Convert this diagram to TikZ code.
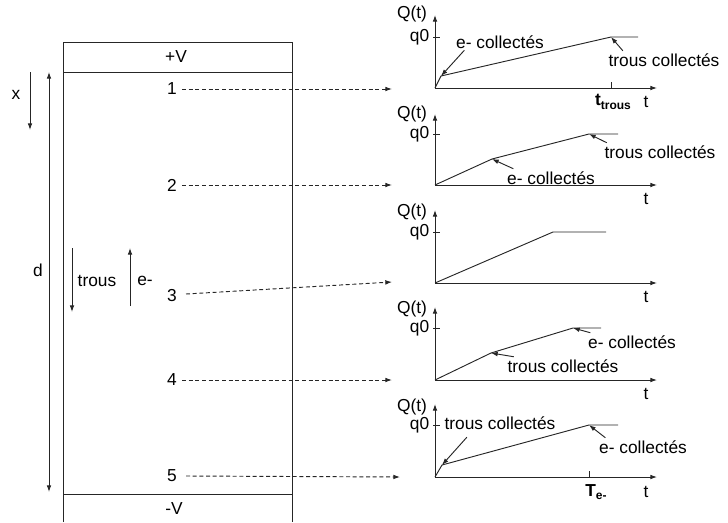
\documentclass[tikz,border=0pt]{standalone}
\usepackage{fontspec}
\setmainfont{Liberation Sans}
\usetikzlibrary{arrows.meta}

\tikzset{
  lbl/.style={inner sep=1pt,font=\fontsize{13}{15}\selectfont},
  axis/.style={-{Latex[length=5pt,width=3.5pt]}},
  pointer/.style={-{Latex[length=5pt,width=3.5pt]}},
  probe/.style={-{Latex[length=5pt,width=3.5pt]},dash pattern=on 3pt off 2pt},
}

\begin{document}
\begin{tikzpicture}[x=0.75pt,y=-0.75pt,line width=0.7pt,draw=black!85]
    \useasboundingbox (0,0) rectangle (728,522);

      % detecteur
      \draw (63,522) -- (63,42) -- (292,42) -- (292,522);
      \draw (63,72) -- (292,72);
      \draw (63,494) -- (292,494);

      \begin{scope}[every node/.style={lbl}]
        \node (pV) at (176,57)  {+V};
        \node (mV) at (174,509) {-V};
        \node (xl) at (16,95)   {x};
        \node (dl) at (38,270)  {d};
        \node (tr) at (97,281)  {trous};
        \node (el) at (145,281) {e-};

        \node (1) at (172,89)  {1};
        \node (2) at (172,185) {2};
        \node (3) at (172,296) {3};
        \node (4) at (172,380) {4};
        \node (5) at (172,476) {5};
      \end{scope}

      \draw[axis] (30,72) -- (30,130);
      \draw[{Latex[length=5pt,width=3.5pt]}-{Latex[length=5pt,width=3.5pt]}] (49,72) -- (49,492);
      \draw[axis] (72,248) -- (72,312);
      \draw[axis] (130,306) -- (130,248);

      \coordinate (e1) at (392,89);
      \coordinate (e2) at (392,185);
      \coordinate (e3) at (392,282);
      \coordinate (e4) at (392,380);
      \coordinate (e5) at (400,477);

      \draw[probe] (1) ++(10,0) -- (e1);
      \draw[probe] (2) ++(10,0) -- (e2);
      \draw[probe] (3) ++(14,-2) -- (e3);
      \draw[probe] (4) ++(10,0) -- (e4);
      \draw[probe] (5) ++(14,0) -- (e5);

      % graphe 1
      \coordinate (o1) at (435,88);
      \draw[axis] (o1) -- (435,15);
      \draw[axis] (o1) -- (657,88);
      \draw (433,37) -- (440,37);
      \draw (611,82) -- (611,88);
      \draw (o1) -- (441,76) coordinate (k1) -- (611,37) coordinate (m1) -- (638,37);
      \begin{scope}[every node/.style={lbl}]
        \node (Q1) at (412,14)  {Q(t)};
        \node[anchor=east] (q1) at (431,37) {q0};
        \node (tt) at (613,102) {\textbf{t}\raisebox{-0.35ex}{\fontsize{9}{10}\selectfont\textbf{trous}}};
        \node (t1) at (646,102) {t};
        \node (ec1) at (500,42) {e- collectés};
        \node (tc1) at (664,60) {trous collectés};
      \end{scope}
      \draw[pointer] (ec1.south west) ++(10,0) -- (k1);
      \draw[pointer] (tc1.north west) ++(16,-1) -- (m1);

      % graphe 2
      \coordinate (o2) at (435,185);
      \draw[axis] (o2) -- (435,114);
      \draw[axis] (o2) -- (657,185);
      \draw (433,134) -- (440,134);
      \draw (o2) -- (492,159) coordinate (k2) -- (589,134) coordinate (m2) -- (618,134);
      \begin{scope}[every node/.style={lbl}]
        \node (Q2) at (412,114) {Q(t)};
        \node[anchor=east] (q2) at (431,134) {q0};
        \node (t2) at (646,199) {t};
        \node (tc2) at (660,152) {trous collectés};
        \node (ec2) at (551,178) {e- collectés};
      \end{scope}
      \draw[pointer] (tc2.north west) ++(4,-1) -- (m2);
      \draw[pointer] (ec2.north west) ++(8,-1) -- (k2);

      % graphe 3
      \coordinate (o3) at (435,283);
      \draw[axis] (o3) -- (435,210);
      \draw[axis] (o3) -- (657,283);
      \draw (433,232) -- (440,232);
      \draw (o3) -- (553,232) -- (606,232);
      \begin{scope}[every node/.style={lbl}]
        \node (Q3) at (412,212) {Q(t)};
        \node[anchor=east] (q3) at (431,232) {q0};
        \node (t3) at (646,297) {t};
      \end{scope}

      % graphe 4
      \coordinate (o4) at (435,380);
      \draw[axis] (o4) -- (435,307);
      \draw[axis] (o4) -- (657,380);
      \draw (433,328) -- (440,328);
      \draw (o4) -- (491,353) coordinate (k4) -- (573,328) coordinate (m4) -- (601,328);
      \begin{scope}[every node/.style={lbl}]
        \node (Q4) at (412,309) {Q(t)};
        \node[anchor=east] (q4) at (431,328) {q0};
        \node (t4) at (646,394) {t};
        \node (ec4) at (632,342) {e- collectés};
        \node (tc4) at (563,366) {trous collectés};
      \end{scope}
      \draw[pointer] (ec4.north west) ++(4,-1) -- (m4);
      \draw[pointer] (tc4.north west) ++(8,-1) -- (k4);

      % graphe 5
      \coordinate (o5) at (435,477);
      \draw[axis] (o5) -- (435,404);
      \draw[axis] (o5) -- (657,477);
      \draw (433,425) -- (440,425);
      \draw (589,471) -- (589,477);
      \draw (o5) -- (442,465) coordinate (k5) -- (589,425) coordinate (m5) -- (618,425);
      \begin{scope}[every node/.style={lbl}]
        \node (Q5) at (412,407) {Q(t)};
        \node[anchor=east] (q5) at (431,425) {q0};
        \node (Te) at (596,492) {\textbf{T}\raisebox{-0.35ex}{\fontsize{9}{10}\selectfont\textbf{e-}}};
        \node (t5) at (646,492) {t};
        \node (tc5) at (500,423) {trous collectés};
        \node (ec5) at (643,447) {e- collectés};
      \end{scope}
      \draw[pointer] (tc5.south west) ++(24,6) -- (k5);
      \draw[pointer] (ec5.north west) ++(8,-1) -- (m5);

\end{tikzpicture}
\end{document}
